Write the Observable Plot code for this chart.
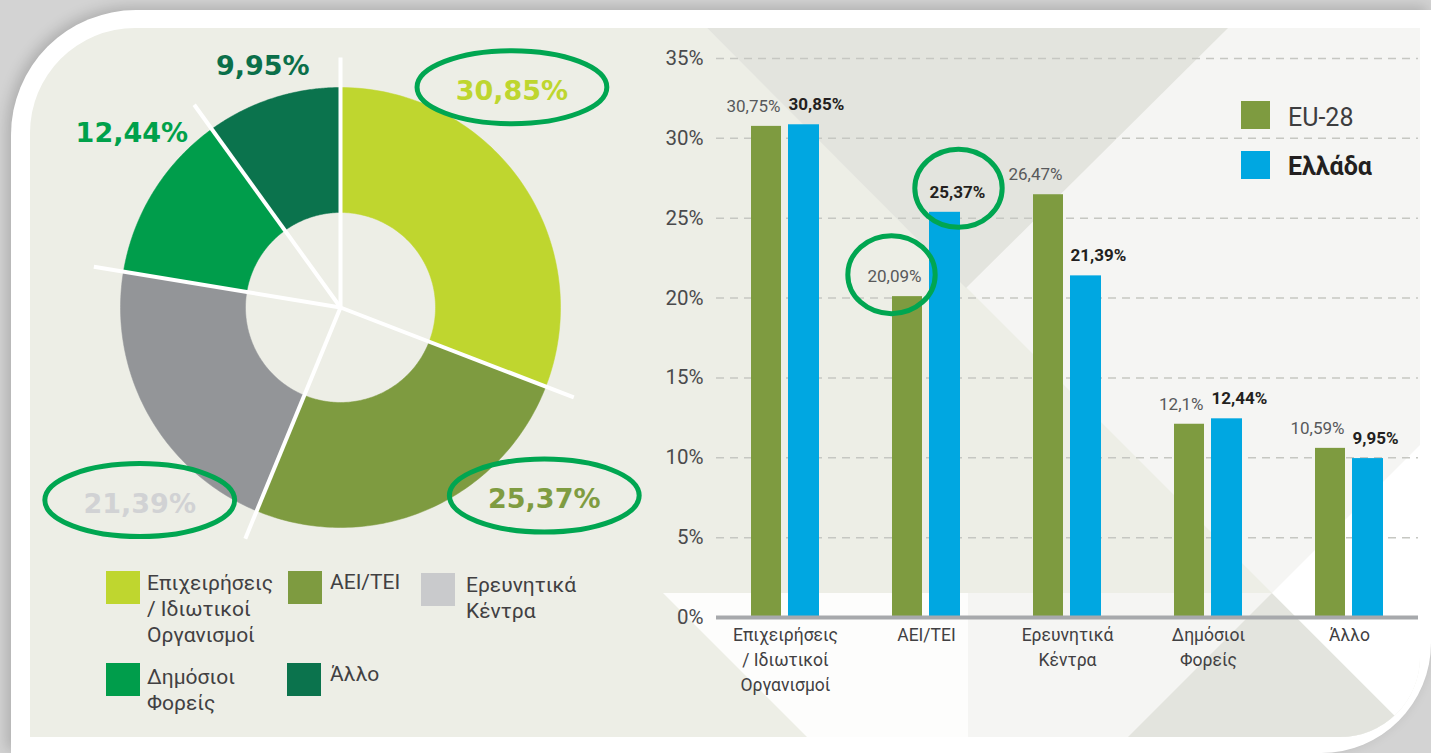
<!DOCTYPE html>
<html>
<head>
<meta charset="utf-8">
<script src="https://cdn.jsdelivr.net/npm/d3@7"></script>
<script src="https://cdn.jsdelivr.net/npm/@observablehq/plot@0.6"></script>
<style>
  html, body { margin: 0; padding: 0; }
  body { width: 1431px; height: 753px; overflow: hidden; position: relative; background: #d3d3d3; font-family: Roboto, "Noto Sans", sans-serif; }
  #card { position: absolute; left: 11px; top: 10px; width: 1420px; height: 743px; background: #fff;
          border-radius: 125px 0 110px 0; box-shadow: -4px -3px 14px rgba(0,0,0,0.18); }
  #panel { position: absolute; left: 30px; top: 28px; width: 1390px; height: 709px; background: #edeee6;
           border-radius: 105px 0 80px 0; overflow: hidden; }
  #panel svg.bg { position: absolute; left: -30px; top: -28px; }
  .abs { position: absolute; }
  .lg-sq { position: absolute; width: 34px; height: 33px; }
  .lg-tx { position: absolute; font-family: Roboto, "Noto Sans", sans-serif; font-size: 21px; line-height: 26px; color: #414042; white-space: nowrap; }
  .bl-sq { position: absolute; width: 29px; height: 28px; }
  .bl-tx { position: absolute; font-family: Roboto, "Noto Sans", sans-serif; font-size: 25px; line-height: 30px; color: #3d3d3f; white-space: nowrap; }
</style>
</head>
<body>
<div id="card"></div>
<div id="panel">
  <svg class="bg" width="1431" height="753" xmlns="http://www.w3.org/2000/svg">
    <polygon points="707,28 1420,28 1420,741" fill="#f5f5f3"/>
    <polygon points="968,593 1272,593 1420,741 968,741" fill="#f5f5f3"/>
    <polygon points="663,593 968,593 968,741 811,741" fill="#fdfdfc"/>
    <polygon points="707,28 1228,28 966,288" fill="#e3e4de"/>
    <polygon points="1272,593 1124,741 1420,741" fill="#e3e4de"/>
    <polygon points="1272,593 1420,445 1420,741" fill="#ffffff"/>
  </svg>
</div>
<div id="donut" class="abs"></div>
<div id="bars" class="abs"></div>
<div id="legendL"></div>
<div id="legendR"></div>
<script>
// ---------- DATA ----------
const categories = ["Επιχειρήσεις / Ιδιωτικοί Οργανισμοί", "ΑΕΙ/ΤΕΙ", "Ερευνητικά Κέντρα", "Δημόσιοι Φορείς", "Άλλο"];
const axisLabels = ["Επιχειρήσεις\n/ Ιδιωτικοί\nΟργανισμοί", "ΑΕΙ/ΤΕΙ", "Ερευνητικά\nΚέντρα", "Δημόσιοι\nΦορείς", "Άλλο"];
const legendLabels = ["Επιχειρήσεις<br>/ Ιδιωτικοί<br>Οργανισμοί", "ΑΕΙ/ΤΕΙ", "Ερευνητικά<br>Κέντρα", "Δημόσιοι<br>Φορείς", "Άλλο"];
const eu28 = [30.75, 20.09, 26.47, 12.1, 10.59];
const greece = [30.85, 25.37, 21.39, 12.44, 9.95];
const seriesNames = ["EU-28", "Ελλάδα"];
const yTicks = [0, 5, 10, 15, 20, 25, 30, 35];
const highlighted = ["ΑΕΙ/ΤΕΙ"];

// ---------- STYLE / LAYOUT ----------
const OLIVE = "#7e9b40", BLUE = "#00a7e1", RING = "#00a651";
const sliceColors = ["#bfd62f", "#7e9b40", "#939598", "#009d4b", "#0b734d"];
const legendColors = ["#bfd62f", "#7e9b40", "#c9cacc", "#009d4b", "#0b734d"];
const donutLabelColors = ["#bed62f", "#7f9c41", "#d1d2d4", "#00a14b", "#0b6f4a"];
// label placement around the donut (bearing in degrees clockwise from top, distance in px)
const donutLabelPlace = [[38.4, 276], [133.3, 280], [225.6, 281], [309.9, 272], [342.1, 253]];
const ringedSlices = [0, 1, 2];
const R_OUT = 220, R_IN = 95, R_LINE = 250;
const fmt = v => String(v).replace(".", ",") + "%";
const FONT = "Roboto, 'Noto Sans', sans-serif";

function ellipseSymbol(aspect) {
  return {
    draw(ctx, size) {
      const r = Math.sqrt(size / Math.PI);
      const rx = r * aspect, ry = r, k = 0.5523;
      ctx.moveTo(rx, 0);
      ctx.bezierCurveTo(rx, ry * k, rx * k, ry, 0, ry);
      ctx.bezierCurveTo(-rx * k, ry, -rx, ry * k, -rx, 0);
      ctx.bezierCurveTo(-rx, -ry * k, -rx * k, -ry, 0, -ry);
      ctx.bezierCurveTo(rx * k, -ry, rx, -ry * k, rx, 0);
      ctx.closePath();
    }
  };
}

// ---------- DONUT ----------
const total = d3.sum(greece);
let acc = 0;
const slices = greece.map((v, i) => {
  const a0 = acc / total * 2 * Math.PI;
  acc += v;
  const a1 = acc / total * 2 * Math.PI;
  return {i, v, a0, a1, name: categories[i]};
});
function slicePolygon(s) {
  const n = 90, pts = [];
  for (let k = 0; k <= n; k++) { const a = s.a0 + (s.a1 - s.a0) * k / n; pts.push({x: R_OUT * Math.sin(a), y: -R_OUT * Math.cos(a)}); }
  for (let k = n; k >= 0; k--) { const a = s.a0 + (s.a1 - s.a0) * k / n; pts.push({x: R_IN * Math.sin(a), y: -R_IN * Math.cos(a)}); }
  return pts;
}
const separators = slices.map(s => ({x1: 0, y1: 0, x2: R_LINE * Math.sin(s.a0), y2: -R_LINE * Math.cos(s.a0)}));
const donutLabels = slices.map((s, i) => {
  const [b, d] = donutLabelPlace[i];
  const a = b * Math.PI / 180;
  return {x: d * Math.sin(a), y: -d * Math.cos(a), text: fmt(s.v), color: donutLabelColors[i], i};
});

const DS = 640;
const donut = Plot.plot({
  width: DS, height: DS, margin: 0,
  style: {background: "transparent", overflow: "visible"},
  x: {domain: [-DS / 2, DS / 2], axis: null},
  y: {domain: [DS / 2, -DS / 2], axis: null},
  marks: [
    ...slices.map(s => Plot.line(slicePolygon(s), {x: "x", y: "y", fill: sliceColors[s.i], stroke: sliceColors[s.i], strokeWidth: 0.5, curve: "linear"})),
    Plot.link(separators, {x1: "x1", y1: "y1", x2: "x2", y2: "y2", stroke: "#ffffff", strokeWidth: 4}),
    Plot.text(donutLabels, {x: "x", y: "y", text: "text", fill: d => d.color, fontFamily: "'DejaVu Sans', sans-serif", fontWeight: "bold", fontSize: 27}),
    Plot.dot(donutLabels.filter(d => ringedSlices.includes(d.i)), {x: "x", y: "y", dy: -4, r: 36.5, symbol: ellipseSymbol(2.6), stroke: RING, strokeWidth: 5, fill: "none"})
  ]
});
const dEl = document.getElementById("donut");
dEl.style.left = (340 - DS / 2) + "px";
dEl.style.top = (307 - DS / 2) + "px";
dEl.appendChild(donut);

// ---------- BARS ----------
const rows = categories.map((c, i) => ({cat: c, eu: eu28[i], gr: greece[i]}));
const bars = Plot.plot({
  width: 785, height: 680,
  marginLeft: 76, marginRight: 7, marginTop: 28, marginBottom: 93,
  style: {background: "transparent", overflow: "visible"},
  x: {type: "band", domain: categories, paddingInner: 0.52, paddingOuter: 0.24, align: 0.5},
  y: {domain: [0, 35]},
  marks: [
    Plot.ruleY(yTicks.filter(t => t > 0), {stroke: "#c6c7c2", strokeWidth: 1.5, strokeDasharray: "8,6"}),
    Plot.barY(rows, {x: "cat", y: "eu", fill: OLIVE, insetRight: 38}),
    Plot.barY(rows, {x: "cat", y: "gr", fill: BLUE, insetLeft: 37}),
    Plot.ruleY([0], {stroke: "#a7a9ac", strokeWidth: 4}),
    Plot.axisY({ticks: yTicks, tickSize: 0, tickPadding: 13, tickFormat: t => t + "%", label: null,
                fontSize: 20.5, fontFamily: FONT, fill: "#4a4a4c"}),
    Plot.axisX({tickSize: 0, tickPadding: 5, label: null, tickFormat: c => axisLabels[categories.indexOf(c)],
                fontSize: 17.5, lineHeight: 1.45, fontFamily: FONT, fill: "#414042"}),
    Plot.text(rows, {x: "cat", y: "eu", text: d => fmt(d.eu), dx: -5, dy: -20, textAnchor: "end",
                     fontSize: 17, fontFamily: FONT, fill: "#58595b"}),
    Plot.text(rows, {x: "cat", y: "gr", text: d => fmt(d.gr), dx: 3, dy: -20, textAnchor: "start",
                     fontSize: 17, fontWeight: "bold", fontFamily: FONT, fill: "#231f20"}),
    Plot.dot(rows.filter(d => highlighted.includes(d.cat)), {x: "cat", y: "eu", dx: -35, dy: -22, r: 39, symbol: ellipseSymbol(1.12), stroke: RING, strokeWidth: 5, fill: "none"}),
    Plot.dot(rows.filter(d => highlighted.includes(d.cat)), {x: "cat", y: "gr", dx: 32, dy: -24, r: 39, symbol: ellipseSymbol(1.12), stroke: RING, strokeWidth: 5, fill: "none"})
  ]
});
const bEl = document.getElementById("bars");
bEl.style.left = "640px";
bEl.style.top = "30px";
bEl.appendChild(bars);

// ---------- LEGENDS ----------
const legL = document.getElementById("legendL");
const legPos = [[106, 571, 147, 570], [288, 571, 330, 569], [421, 573, 466, 572], [106, 663, 147, 664], [287, 663, 330, 661]];
categories.forEach((c, i) => {
  const [sx, sy, tx, ty] = legPos[i];
  const sq = document.createElement("div");
  sq.className = "lg-sq"; sq.style.left = sx + "px"; sq.style.top = sy + "px"; sq.style.background = legendColors[i];
  const tx_ = document.createElement("div");
  tx_.className = "lg-tx"; tx_.style.left = tx + "px"; tx_.style.top = ty + "px"; tx_.innerHTML = legendLabels[i];
  legL.appendChild(sq); legL.appendChild(tx_);
});
const legR = document.getElementById("legendR");
[[OLIVE, 101, 103, "normal"], [BLUE, 151, 152, "bold"]].forEach(([col, sy, ty, w], i) => {
  const sq = document.createElement("div");
  sq.className = "bl-sq"; sq.style.left = "1241px"; sq.style.top = sy + "px"; sq.style.background = col;
  const t = document.createElement("div");
  t.className = "bl-tx"; t.style.left = "1288px"; t.style.top = ty + "px"; t.style.fontWeight = w;
  if (w === "bold") t.style.color = "#231f20";
  t.textContent = seriesNames[i];
  legR.appendChild(sq); legR.appendChild(t);
});
</script>
</body>
</html>
